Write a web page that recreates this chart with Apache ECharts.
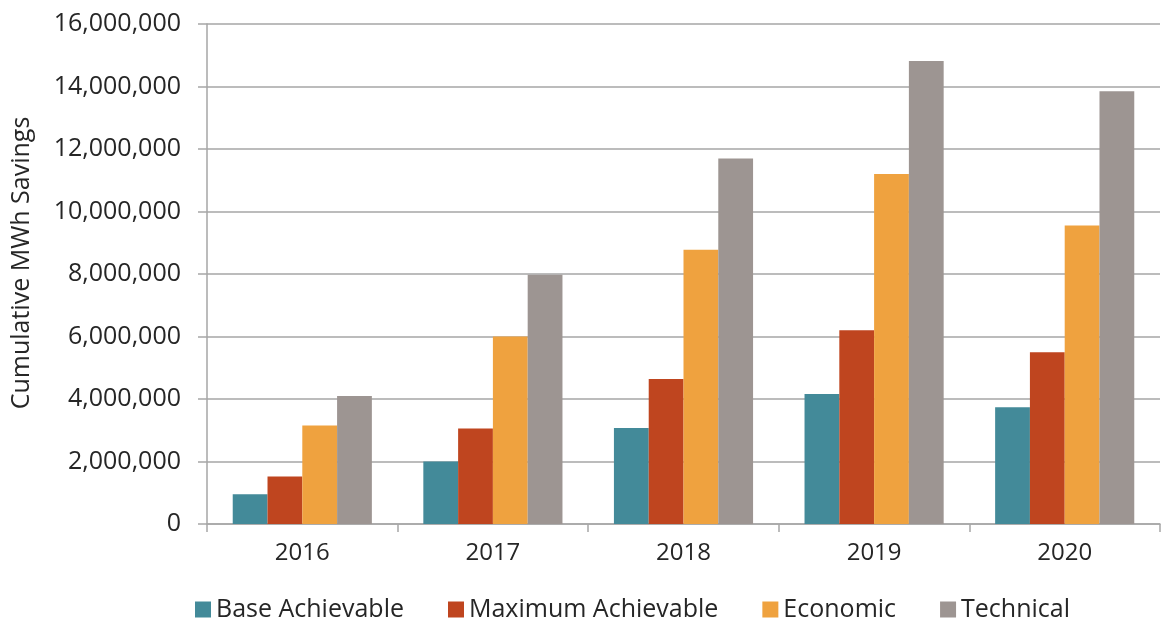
<!DOCTYPE html>
<html>
<head>
<meta charset="utf-8">
<script src="https://cdn.jsdelivr.net/npm/echarts@6/dist/echarts.min.js"></script>
<style>
  html, body { margin: 0; padding: 0; background: #fff; }
  #chart { width: 1165px; height: 625px; }
</style>
</head>
<body>
<div id="chart"></div>
<script>
  var years = ['2016', '2017', '2018', '2019', '2020'];
  var baseAchievable = [950000, 2000000, 3070000, 4160000, 3740000];
  var maxAchievable = [1520000, 3060000, 4640000, 6200000, 5500000];
  var economic = [3150000, 6000000, 8780000, 11200000, 9550000];
  var technical = [4100000, 7980000, 11700000, 14820000, 13850000];

  var font = '"Open Sans", "DejaVu Sans", sans-serif';
  var ink = '#262626';

  function bar(name, data, color) {
    return {
      name: name,
      type: 'bar',
      data: data,
      barGap: '0%',
      barCategoryGap: '27%',
      itemStyle: { color: color }
    };
  }

  var option = {
    backgroundColor: '#fff',
    textStyle: { fontFamily: font },
    grid: { left: 207, right: 5, top: 24, bottom: 101 },
    legend: {
      bottom: -2,
      left: 190,
      icon: 'rect',
      itemWidth: 16,
      itemHeight: 16,
      itemGap: 44,
      textStyle: { fontSize: 25, color: ink, fontFamily: font }
    },
    xAxis: {
      type: 'category',
      data: years,
      axisLine: { lineStyle: { color: '#a6a6a6', width: 1.5 } },
      axisTick: { show: true, length: 8, lineStyle: { color: '#a6a6a6', width: 1.5 } },
      axisLabel: { fontSize: 24, color: ink, margin: 17 }
    },
    yAxis: {
      type: 'value',
      min: 0,
      max: 16000000,
      interval: 2000000,
      name: 'Cumulative MWh Savings',
      nameLocation: 'middle',
      nameGap: 173,
      nameTextStyle: { fontSize: 25, color: ink, padding: [0, 0, 0, 22] },
      axisLine: { show: true, lineStyle: { color: '#a6a6a6', width: 1.5 } },
      axisTick: { show: true, length: 9, lineStyle: { color: '#a6a6a6', width: 1.5 } },
      splitLine: { lineStyle: { color: '#a6a6a6', width: 1.5 } },
      axisLabel: {
        fontSize: 25,
        color: ink,
        margin: 26,
        formatter: function (v) { return v.toLocaleString('en-US'); }
      }
    },
    series: [
      bar('Base Achievable', baseAchievable, '#438a99'),
      bar('Maximum Achievable', maxAchievable, '#bf451f'),
      bar('Economic', economic, '#efa23f'),
      bar('Technical', technical, '#9d9592')
    ]
  };

  var myChart = echarts.init(document.getElementById('chart'));
  myChart.setOption(option);
</script>
</body>
</html>
